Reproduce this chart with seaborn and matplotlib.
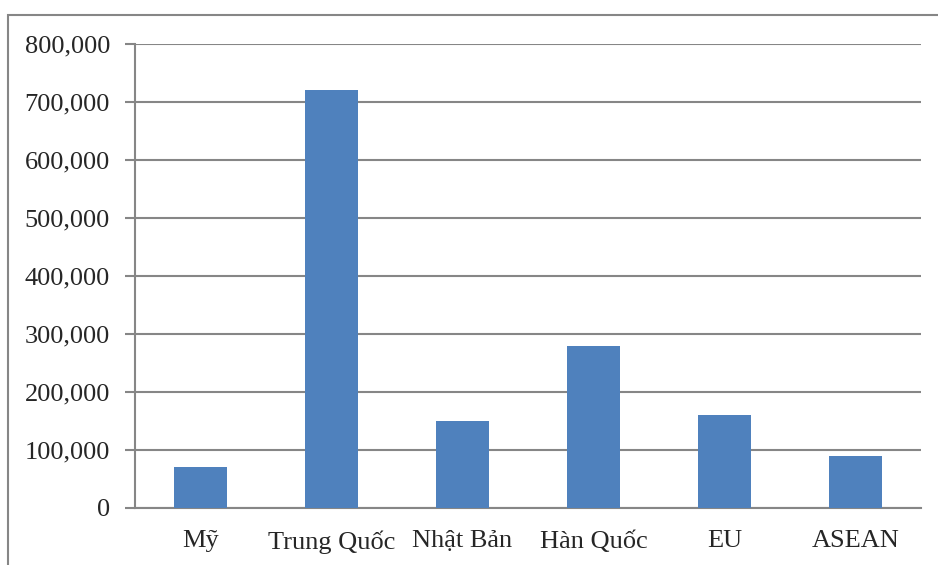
import matplotlib
matplotlib.use("Agg")
import matplotlib.pyplot as plt
import matplotlib.ticker as mticker
from matplotlib.patches import Rectangle
import seaborn as sns
import pandas as pd

countries = ['Mỹ', 'Trung Quốc', 'Nhật Bản', 'Hàn Quốc', 'EU', 'ASEAN']
values = [70000, 720000, 150000, 280000, 160000, 90000]

df = pd.DataFrame({'country': countries, 'value': values})

sns.set_style('white')
plt.rcParams['font.family'] = ['Liberation Serif', 'DejaVu Serif']

grid_col = '#868686'

fig = plt.figure(figsize=(9.38, 5.65), dpi=100)
ax = fig.add_axes([135 / 938, 1 - 508 / 565, (921 - 135) / 938, (508 - 44) / 565])

sns.barplot(data=df, x='country', y='value', color='#4F81BD', width=0.4,
            saturation=1, edgecolor='none', ax=ax, zorder=3)

ax.set_xlim(-0.5, len(countries) - 0.5)
ax.set_ylim(0, 800000)
ax.yaxis.set_major_locator(mticker.MultipleLocator(100000))
ax.yaxis.set_major_formatter(mticker.FuncFormatter(lambda v, p: f'{int(v):,}'))
ax.grid(axis='y', color=grid_col, lw=1.5, zorder=0)
ax.set_axisbelow(True)

ax.set_xlabel('')
ax.set_ylabel('')
for s in ['top', 'right']:
    ax.spines[s].set_visible(False)
for s in ['left', 'bottom']:
    ax.spines[s].set_color(grid_col)
    ax.spines[s].set_linewidth(1.5)

ax.tick_params(axis='x', which='major', length=0, pad=16, labelsize=19)
ax.xaxis.set_minor_locator(mticker.FixedLocator([i - 0.5 for i in range(len(countries) + 1)]))
ax.tick_params(axis='x', which='minor', length=7, width=1.5, color=grid_col)
ax.tick_params(axis='y', length=7, width=1.5, color=grid_col, labelsize=19, pad=11, left=True)

fig.patches.append(Rectangle((8 / 938, -0.1), 1.2, 1 - 15 / 565 + 0.1,
                             transform=fig.transFigure, fill=False,
                             edgecolor=grid_col, lw=1.5))

fig.savefig('out.png', dpi=100)
